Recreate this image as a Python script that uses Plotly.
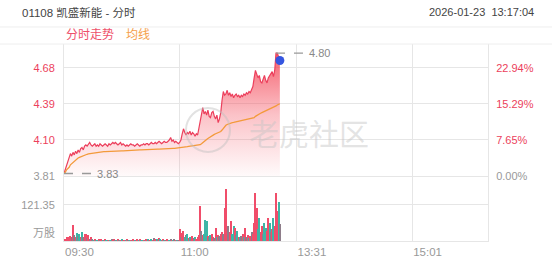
import plotly.graph_objects as go

stock_title = "01108 凯盛新能 - 分时"
timestamp = "2026-01-23  13:17:04"
legend_price = "分时走势"
legend_avg = "均线"
watermark = "老虎社区"
vol_unit = "万股"
prev_close = 3.81
session_minutes = 330

price = [
    3.83, 3.86, 3.90, 3.93, 3.96, 3.99, 3.97, 4.00, 3.98, 4.01, 3.99, 4.02, 4.00, 4.03, 4.04, 4.02, 4.05, 4.06, 4.05, 4.07, 4.08,
    4.06, 4.05, 4.06, 4.07, 4.05, 4.06, 4.05, 4.07, 4.06, 4.05, 4.06, 4.07, 4.06, 4.05, 4.07, 4.06, 4.07, 4.08, 4.07, 4.08,
    4.07, 4.06, 4.07, 4.08, 4.06, 4.07, 4.06, 4.05, 4.06, 4.05, 4.06, 4.07, 4.06, 4.06, 4.05, 4.06, 4.07, 4.06, 4.05, 4.06,
    4.06, 4.07, 4.06, 4.07, 4.07, 4.06, 4.07, 4.08, 4.07, 4.07, 4.08, 4.07, 4.08, 4.09, 4.08, 4.07, 4.08, 4.09, 4.08, 4.08,
    4.09, 4.10, 4.12, 4.09, 4.10, 4.08, 4.09, 4.08, 4.07, 4.08, 4.10, 4.15, 4.19, 4.16, 4.14, 4.16, 4.15, 4.17, 4.14, 4.16,
    4.15, 4.13, 4.15, 4.14, 4.20,
    4.26, 4.33, 4.36, 4.31, 4.33, 4.30, 4.34, 4.29, 4.28, 4.32, 4.33, 4.29, 4.27, 4.30, 4.24, 4.27, 4.32, 4.42, 4.49, 4.46,
    4.47, 4.50, 4.46, 4.48, 4.45, 4.47, 4.44, 4.46, 4.47, 4.45, 4.46, 4.44, 4.46, 4.45, 4.47, 4.46, 4.48, 4.47, 4.49, 4.48,
    4.50, 4.53, 4.60, 4.66, 4.63, 4.60, 4.62, 4.57, 4.56, 4.60, 4.62, 4.58, 4.56, 4.60, 4.62, 4.63, 4.65, 4.61, 4.66, 4.80,
    4.80, 4.77, 4.74,
]

avg_price = [
    3.83, 3.84, 3.86, 3.87, 3.88, 3.90, 3.91, 3.92, 3.93, 3.94, 3.95, 3.955, 3.96, 3.965, 3.97, 3.975, 3.978, 3.982, 3.985, 3.988, 3.99,
    3.992, 3.994, 3.996, 3.998, 4.000, 4.001, 4.002, 4.003, 4.004, 4.005, 4.006, 4.006, 4.007, 4.007, 4.008, 4.008, 4.009, 4.009, 4.010, 4.010,
    4.011, 4.011, 4.012, 4.012, 4.013, 4.013, 4.014, 4.014, 4.015, 4.015, 4.016, 4.016, 4.017, 4.017, 4.018, 4.018, 4.019, 4.019, 4.020, 4.020,
    4.021, 4.021, 4.022, 4.022, 4.023, 4.023, 4.024, 4.024, 4.025, 4.025, 4.026, 4.026, 4.027, 4.027, 4.028, 4.028, 4.029, 4.029, 4.030, 4.030,
    4.031, 4.031, 4.032, 4.032, 4.033, 4.033, 4.034, 4.034, 4.035, 4.035, 4.036, 4.038, 4.040, 4.042, 4.044, 4.046, 4.048, 4.050, 4.051, 4.052,
    4.053, 4.054, 4.055, 4.056, 4.058,
    4.062, 4.070, 4.080, 4.088, 4.096, 4.104, 4.112, 4.120, 4.128, 4.135, 4.140, 4.145, 4.150, 4.155, 4.158, 4.162, 4.168, 4.180, 4.195, 4.210,
    4.218, 4.225, 4.230, 4.234, 4.237, 4.240, 4.242, 4.244, 4.246, 4.248, 4.250, 4.252, 4.254, 4.256, 4.258, 4.260, 4.262, 4.264, 4.266, 4.268,
    4.270, 4.274, 4.280, 4.290, 4.298, 4.304, 4.310, 4.315, 4.320, 4.325, 4.330, 4.334, 4.338, 4.342, 4.346, 4.350, 4.355, 4.360, 4.366, 4.374,
    4.382, 4.388, 4.392,
]

volume = [
    5, 8, 12, 15, 10, 18, 12, 54, 20, 15, 28, 18, 25, 12, 30, 15, 22, 24, 10, 20, 8,
    12, 6, 4, 8, 5, 3, 6, 4, 7, 5, 3, 6, 4, 2, 5, 3, 6, 4, 8, 5,
    4, 6, 3, 5, 7, 2, 4, 3, 6, 5, 2, 4, 3, 7, 5, 3, 6, 4, 8, 5,
    3, 5, 4, 6, 8, 3, 5, 7, 4, 10, 8, 6, 5, 9, 7, 4, 6, 3, 5, 8,
    5, 4, 6, 3, 5, 8, 4, 3, 5, 40, 15, 28, 35, 12, 20, 22, 10, 15, 8, 18, 10, 12, 6, 14, 20,
    118, 35, 20, 25, 71, 68, 18, 12, 20, 25, 15, 10, 44, 15, 20, 18, 25, 30, 22, 111,
    175, 45, 50, 30, 67, 25, 50, 44, 20, 35, 15, 12, 18, 25, 12, 44, 15, 20, 10, 18,
    30, 25, 60, 162, 111, 40, 78, 30, 50, 25, 60, 45, 35, 78, 60, 30, 40, 78, 50, 162,
    100, 131, 57,
]

vol_dir = list(
    "rrrrrrnrnrgngrgnrrnrn"
    "rngrngrnrgnrgnrgnrrn"
    "grnrgnrgrngrnrgnrgrn"
    "grnrgnrgrnrgnrgnrgnr"
    "rgnrgnrgnrnrrgngrgnrngrrr"
    "rnrgggrngr" "rnrgrnrrnr" "rrnrrggrng" "rgnrgrnrgr" "nrrrrggrrn" "ggrrgnrgrr" "rgn"
)

tick_minutes = [0, 90, 181, 271]
tick_labels = ["09:30", "11:00", "13:31", "15:01"]
price_ticks = [3.81, 4.10, 4.39, 4.68]
price_labels = ["3.81", "4.10", "4.39", "4.68"]
pct_labels = ["0.00%", "7.65%", "15.29%", "22.94%"]
vol_tick = 121.35
vol_tick_label = "121.35"

# ---------------- styling ----------------
RED = "#ec3f5c"
ORANGE = "#f39a3a"
GRID = "#e6e6e6"
GRAY_TXT = "#999999"
FONT = "Liberation Sans, Arial, Noto Sans CJK SC, sans-serif"
dir_colors = {"r": "#f04d6a", "g": "#3db6a6", "n": "#8e7d8a"}

minutes = list(range(len(price)))
price_range = [3.81, 4.873]
vol_range = [0, 219]

fig = go.Figure()

fig.add_trace(go.Scatter(
    x=minutes, y=price, mode="lines", line=dict(color=RED, width=1.2),
    fill="tozeroy",
    fillgradient=dict(type="vertical",
                      colorscale=[[0, "rgba(246,90,105,0.03)"], [0.5, "rgba(244,80,95,0.35)"],
                                  [1, "rgba(242,65,82,0.85)"]],
                      start=prev_close, stop=max(price)),
    xaxis="x", yaxis="y", hoverinfo="skip", showlegend=False,
))
fig.add_trace(go.Scatter(
    x=minutes, y=avg_price, mode="lines", line=dict(color=ORANGE, width=1.3),
    xaxis="x", yaxis="y", hoverinfo="skip", showlegend=False,
))
fig.add_trace(go.Scatter(
    x=[minutes[-1]], y=[price[-1]], mode="markers",
    marker=dict(color="#3556e0", size=9),
    xaxis="x", yaxis="y", hoverinfo="skip", showlegend=False,
))
# invisible trace for right percentage axis
fig.add_trace(go.Scatter(
    x=[minutes[0]], y=[prev_close], mode="markers", marker=dict(opacity=0),
    xaxis="x", yaxis="y3", hoverinfo="skip", showlegend=False,
))
fig.add_trace(go.Bar(
    x=minutes, y=volume, marker=dict(color=[dir_colors[d] for d in vol_dir], line=dict(width=0)),
    width=0.8, xaxis="x2", yaxis="y2", hoverinfo="skip", showlegend=False,
))

# high / low markers
i_max = price.index(max(price))
i_min = price.index(min(price))
for idx, lbl in ((i_max, max(price)), (i_min, min(price))):
    fig.add_shape(type="line", xref="x", yref="y", x0=idx, x1=idx + 21, y0=lbl, y1=lbl,
                  line=dict(color="#999999", width=1.3, dash="dash"))
    fig.add_annotation(xref="x", yref="y", x=idx + 24, y=lbl, text=f"{lbl:.2f}",
                       showarrow=False, xanchor="left", yanchor="middle",
                       font=dict(size=11, color="#888888", family=FONT))

red_labels = [f"<span style='color:{GRAY_TXT if i == 0 else RED}'>{t}</span>" for i, t in enumerate(price_labels)]
red_pcts = [f"<span style='color:{GRAY_TXT if i == 0 else RED}'>{t}</span>" for i, t in enumerate(pct_labels)]

fig.update_layout(
    width=552, height=265,
    margin=dict(l=64, r=64, t=44, b=24, autoexpand=False),
    paper_bgcolor="white", plot_bgcolor="white",
    font=dict(family=FONT, size=11, color=GRAY_TXT),
    bargap=0,
    xaxis=dict(domain=[0, 1], anchor="y", range=[0, session_minutes], tickvals=tick_minutes,
               showticklabels=False, showgrid=True, gridcolor=GRID, gridwidth=1,
               zeroline=False, showline=True, linecolor=GRID, ticks="", automargin=False),
    xaxis2=dict(domain=[0, 1], anchor="y2", range=[0, session_minutes], matches="x",
                tickvals=tick_minutes, ticktext=tick_labels, ticklabelposition="outside right",
                showgrid=True, gridcolor=GRID, gridwidth=1, zeroline=False, automargin=False,
                showline=True, linecolor=GRID, ticks="outside", ticklen=3, tickcolor="rgba(0,0,0,0)",
                tickfont=dict(size=11.5, color=GRAY_TXT)),
    yaxis=dict(domain=[0.33, 1], anchor="x", range=price_range, tickvals=price_ticks,
               ticktext=red_labels, showgrid=True, gridcolor=GRID, zeroline=False, automargin=False,
               showline=True, mirror=True, linecolor=GRID, ticks="outside", ticklen=6,
               tickcolor="rgba(0,0,0,0)", tickfont=dict(size=11)),
    yaxis3=dict(overlaying="y", side="right", anchor="x", range=price_range, tickvals=price_ticks,
                ticktext=red_pcts, showgrid=False, zeroline=False, showline=False, automargin=False,
                ticks="outside", ticklen=5, tickcolor="rgba(0,0,0,0)", tickfont=dict(size=11)),
    yaxis2=dict(domain=[0, 0.33], anchor="x2", range=vol_range, tickvals=[vol_tick],
                ticktext=[vol_tick_label], showgrid=True, gridcolor=GRID, zeroline=False, automargin=False,
                showline=True, mirror=True, linecolor=GRID, ticks="outside", ticklen=6,
                tickcolor="rgba(0,0,0,0)", tickfont=dict(size=11, color=GRAY_TXT)),
)

# header band lines
for yp in (1.0863, 1.0):
    fig.add_shape(type="line", xref="paper", yref="paper", x0=-0.151, x1=1.151, y0=yp, y1=yp,
                  line=dict(color="#eeeeee", width=1))

fig.add_annotation(xref="paper", yref="paper", x=-0.104, y=1.1624, text=stock_title,
                   showarrow=False, xanchor="left", yanchor="middle",
                   font=dict(size=11.5, color="#444444", family=FONT))
fig.add_annotation(xref="paper", yref="paper", x=1.1132, y=1.1624, text=timestamp,
                   showarrow=False, xanchor="right", yanchor="middle",
                   font=dict(size=11, color="#444444", family=FONT))
fig.add_annotation(xref="paper", yref="paper", x=0.0, y=1.0457, text=legend_price,
                   showarrow=False, xanchor="left", yanchor="middle",
                   font=dict(size=12, color="#ee4f6a", family=FONT))
fig.add_annotation(xref="paper", yref="paper", x=0.1415, y=1.0457, text=legend_avg,
                   showarrow=False, xanchor="left", yanchor="middle",
                   font=dict(size=12, color="#f5a04a", family=FONT))
fig.add_annotation(xref="paper", yref="y2", x=-0.016, y=0, text=vol_unit,
                   showarrow=False, xanchor="right", yanchor="bottom",
                   font=dict(size=11, color=GRAY_TXT, family=FONT))

# watermark
fig.add_shape(type="circle", xref="paper", yref="paper", x0=0.2877, x1=0.3915, y0=0.4518, y1=0.675,
              line=dict(color="rgba(190,190,190,0.45)", width=2))
fig.add_annotation(xref="paper", yref="paper", x=0.4316, y=0.553, text=watermark,
                   showarrow=False, xanchor="left", yanchor="middle",
                   font=dict(size=30, color="rgba(195,195,195,0.45)", family="Noto Sans CJK SC"))

fig.write_html("out.html")
